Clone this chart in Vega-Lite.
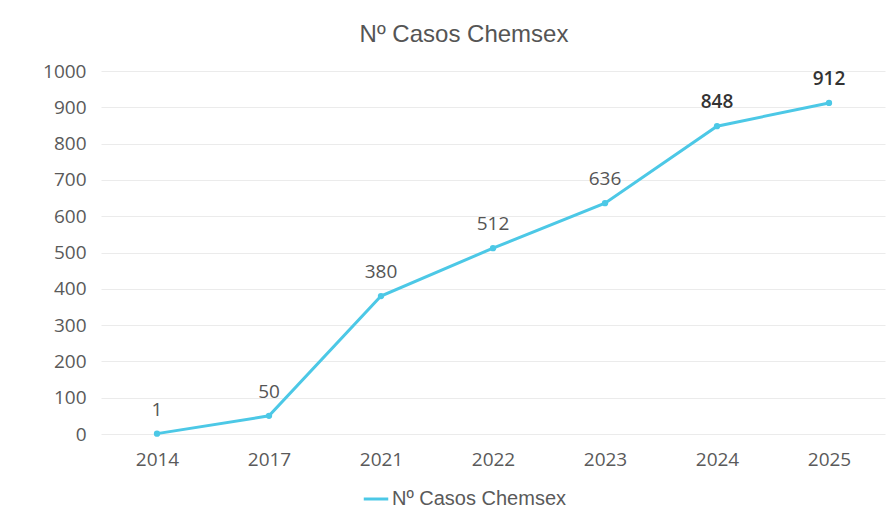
{
  "$schema": "https://vega.github.io/schema/vega-lite/v6.json",
  "width": 784,
  "height": 363,
  "autosize": {"type": "none"},
  "padding": {"left": 101, "top": 71, "right": 6, "bottom": 87},
  "background": "white",
  "config": {
    "font": "Open Sans",
    "view": {"stroke": null},
    "axis": {"domain": false, "ticks": false, "labelColor": "#5a5a5a", "labelFontSize": 19, "titleColor": "#595959"}
  },
  "title": {"text": "Nº Casos Chemsex", "font": "Liberation Sans", "fontSize": 24, "fontWeight": "normal", "color": "#555555", "anchor": "middle", "offset": 15, "dx": -29},
  "data": {"values": [
    {"year": "2014", "casos": 1, "serie": "Nº Casos Chemsex"},
    {"year": "2017", "casos": 50, "serie": "Nº Casos Chemsex"},
    {"year": "2021", "casos": 380, "serie": "Nº Casos Chemsex"},
    {"year": "2022", "casos": 512, "serie": "Nº Casos Chemsex"},
    {"year": "2023", "casos": 636, "serie": "Nº Casos Chemsex"},
    {"year": "2024", "casos": 848, "serie": "Nº Casos Chemsex"},
    {"year": "2025", "casos": 912, "serie": "Nº Casos Chemsex"}
  ]},
  "encoding": {
    "x": {"field": "year", "type": "ordinal", "axis": {"title": null, "labelAngle": 0, "labelPadding": 16, "grid": false}, "scale": {"paddingInner": 0, "paddingOuter": 0.5}},
    "y": {"field": "casos", "type": "quantitative", "scale": {"domain": [0, 1000]}, "axis": {"title": null, "values": [0,100,200,300,400,500,600,700,800,900,1000], "format": "d", "labelOverlap": false, "labelPadding": 15, "gridColor": "#ebebeb"}}
  },
  "layer": [
    {
      "mark": {"type": "line", "strokeWidth": 3, "point": {"filled": true, "size": 40, "color": "#4cc8e6"}},
      "encoding": {
        "color": {"field": "serie", "type": "nominal", "scale": {"range": ["#4cc8e6"]},
          "legend": {"title": null, "orient": "none", "legendX": 261, "legendY": 414, "direction": "horizontal", "symbolType": "stroke", "symbolStrokeWidth": 3, "symbolSize": 600, "labelFontSize": 20, "labelLimit": 400, "labelFont": "Liberation Sans", "labelColor": "#5a5a5a", "labelOffset": 2}}
      }
    },
    {
      "transform": [{"filter": "datum.casos < 800"}],
      "mark": {"type": "text", "baseline": "middle", "dy": -24, "fontSize": 19, "color": "#555555"},
      "encoding": {"text": {"field": "casos", "type": "quantitative"}}
    },
    {
      "transform": [{"filter": "datum.casos >= 800"}],
      "mark": {"type": "text", "baseline": "middle", "dy": -24, "fontSize": 19, "fontWeight": 600, "color": "#333333"},
      "encoding": {"text": {"field": "casos", "type": "quantitative"}}
    }
  ]
}
